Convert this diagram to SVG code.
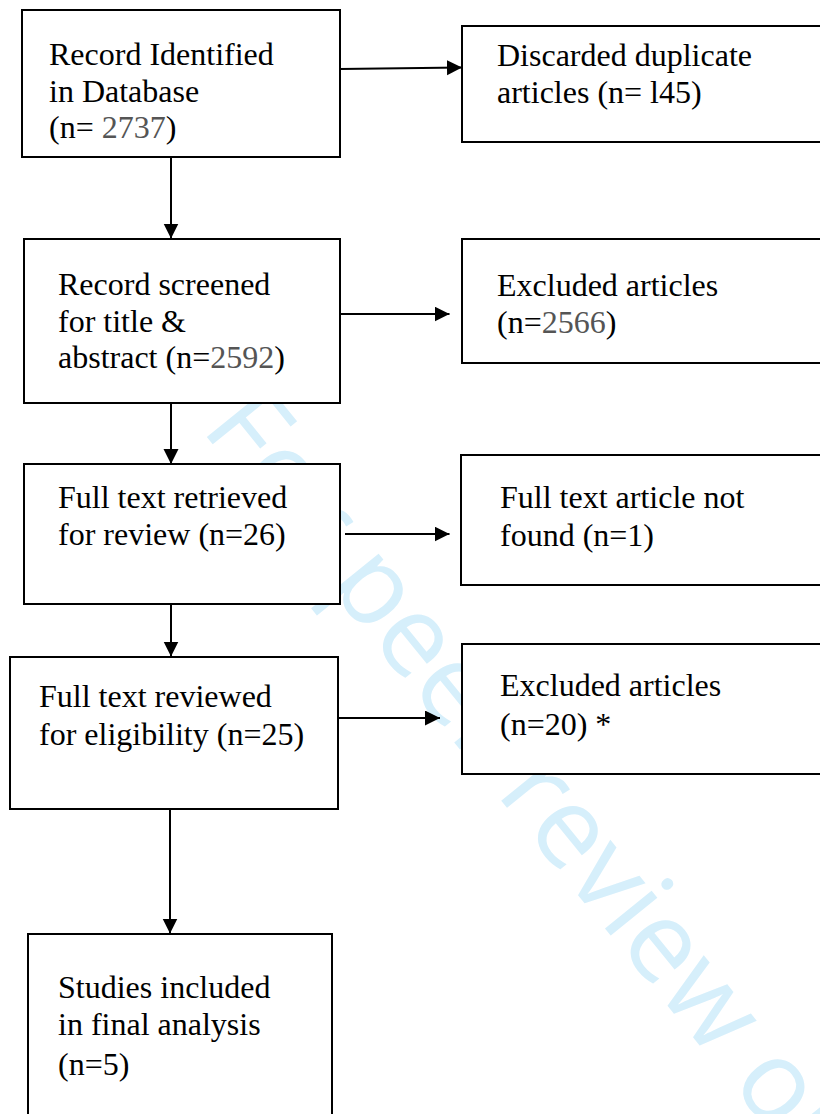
<svg xmlns="http://www.w3.org/2000/svg" width="820" height="1114" viewBox="0 0 820 1114">
<defs>
<style>
.box{fill:#fff;stroke:#000;stroke-width:2}
.t{font-family:"Liberation Serif","Times New Roman",serif;font-size:32px;fill:#000}
.g{fill:#555}
.c{stroke:#000;stroke-width:2;fill:none;marker-end:url(#ah)}
.wm{font-family:"Open Sans","Noto Sans",sans-serif;font-size:112px;fill:#d6effb}
</style>
<marker id="ah" markerUnits="userSpaceOnUse" markerWidth="16" markerHeight="16" refX="15" refY="7.5" orient="auto">
<path d="M0,0 L15,7.5 L0,15 z" fill="#000"/>
</marker>
</defs>
<rect width="820" height="1114" fill="#fff"/>
<g id="watermark">
<text class="wm" transform="translate(200,428.5) rotate(51)">For peer review only</text>
</g>
<g id="connectors">
<path class="c" d="M340,69 L462,67.5"/>
<path class="c" d="M171,157 L171,238.5"/>
<path class="c" d="M340,314 L449.5,314"/>
<path class="c" d="M171,403 L171,464"/>
<path class="c" d="M345,534 L449.5,534"/>
<path class="c" d="M171,604 L171,656.5"/>
<path class="c" d="M338,718 L440,718"/>
<path class="c" d="M170,809 L170,933.5"/>
</g>
<g id="n1">
<rect class="box" x="22" y="10" width="318" height="147"/>
<text class="t" x="49" y="65">Record Identified</text>
<text class="t" x="49" y="101.5">in Database</text>
<text class="t" x="49" y="138">(n= <tspan class="g">2737</tspan>)</text>
</g>
<g id="n2">
<rect class="box" x="462" y="26" width="370" height="116"/>
<text class="t" x="497" y="66">Discarded duplicate</text>
<text class="t" x="497" y="103">articles (n= l45)</text>
</g>
<g id="n3">
<rect class="box" x="24" y="239" width="316" height="164"/>
<text class="t" x="58" y="295">Record screened</text>
<text class="t" x="58" y="331.7">for title &amp;</text>
<text class="t" x="58" y="368.3">abstract (n=<tspan class="g">2592</tspan>)</text>
</g>
<g id="n4">
<rect class="box" x="462" y="239" width="370" height="124"/>
<text class="t" x="497" y="296">Excluded articles</text>
<text class="t" x="497" y="333">(n=<tspan class="g">2566</tspan>)</text>
</g>
<g id="n5">
<rect class="box" x="24" y="464" width="316" height="140"/>
<text class="t" x="58" y="508.3">Full text retrieved</text>
<text class="t" x="58" y="545">for review (n=26)</text>
</g>
<g id="n6">
<rect class="box" x="461" y="455" width="370" height="130"/>
<text class="t" x="500" y="508.3">Full text article not</text>
<text class="t" x="500" y="546">found (n=1)</text>
</g>
<g id="n7">
<rect class="box" x="10" y="657" width="328" height="152"/>
<text class="t" x="39" y="706.7">Full text reviewed</text>
<text class="t" x="39" y="745">for eligibility (n=25)</text>
</g>
<g id="n8">
<rect class="box" x="462" y="644" width="370" height="130"/>
<text class="t" x="500" y="696">Excluded articles</text>
<text class="t" x="500" y="735">(n=20) *</text>
</g>
<g id="n9">
<rect class="box" x="28" y="934" width="304" height="200"/>
<text class="t" x="58" y="998.3">Studies included</text>
<text class="t" x="58" y="1035">in final analysis</text>
<text class="t" x="58" y="1075">(n=5)</text>
</g>
</svg>
